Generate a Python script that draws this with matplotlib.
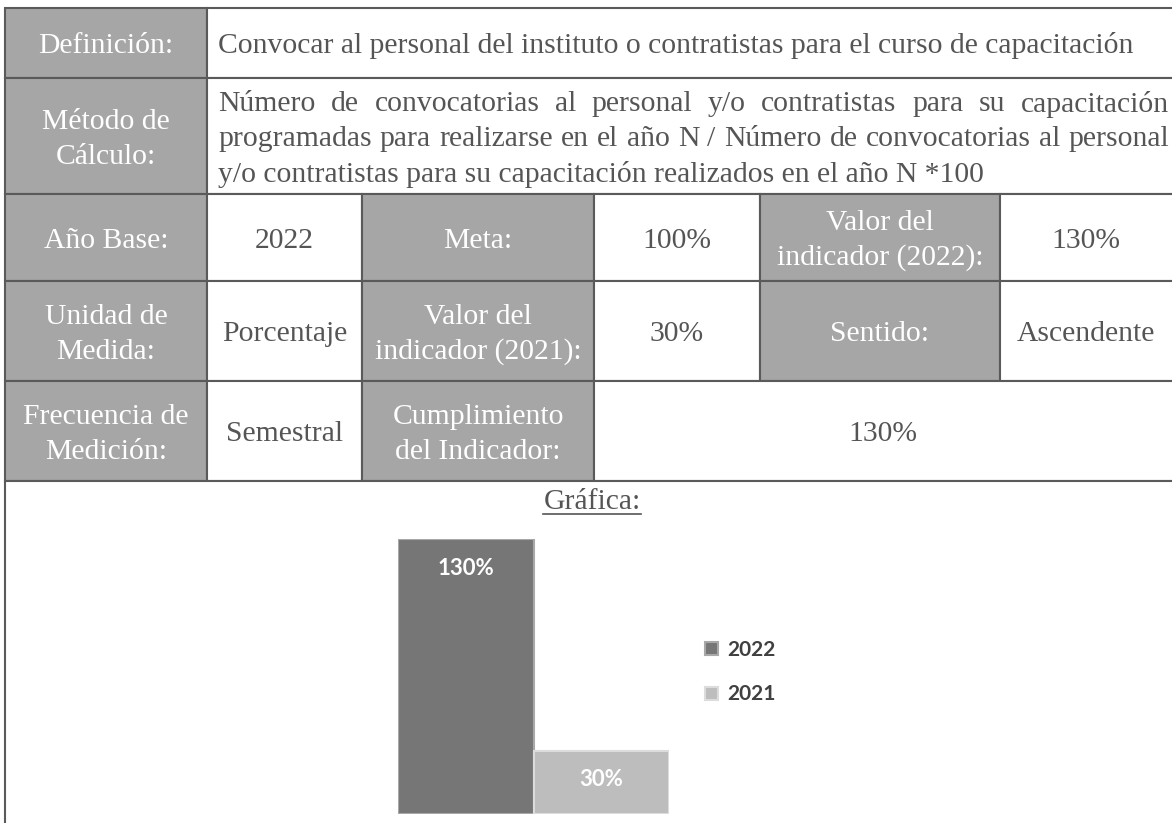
import matplotlib
matplotlib.use('Agg')
import matplotlib.pyplot as plt
from matplotlib.patches import Rectangle

W, H = 1172, 823

# chart data
years = ['2022', '2021']
values = [130, 30]
bar_labels = ['130%', '30%']
bar_colors = ['#767676', '#bdbdbd']
bar_edges = ['#a8a8a8', '#dcdcdc']

# table text
definicion = 'Convocar al personal del instituto o contratistas para el curso de capacitación'
metodo = ['Número de convocatorias al personal y/o contratistas para su capacitación',
          'programadas para realizarse en el año N / Número de convocatorias al personal',
          'y/o contratistas para su capacitación realizados en el año N *100']

col_edges = [5, 207, 362, 594, 760, 1000, 1185]
row_edges = [8, 78, 194, 281, 381, 481]

# (row, first col, last col, text, is label)
cells = [
    (0, 0, 1, 'Definición:', True),
    (0, 1, 6, '', False),
    (1, 0, 1, 'Método de\nCálculo:', True),
    (1, 1, 6, '', False),
    (2, 0, 1, 'Año Base:', True),
    (2, 1, 2, '2022', False),
    (2, 2, 3, 'Meta:', True),
    (2, 3, 4, '100%', False),
    (2, 4, 5, 'Valor del\nindicador (2022):', True),
    (2, 5, 6, '130%', False),
    (3, 0, 1, 'Unidad de\nMedida:', True),
    (3, 1, 2, 'Porcentaje', False),
    (3, 2, 3, 'Valor del\nindicador (2021):', True),
    (3, 3, 4, '30%', False),
    (3, 4, 5, 'Sentido:', True),
    (3, 5, 6, 'Ascendente', False),
    (4, 0, 1, 'Frecuencia de\nMedición:', True),
    (4, 1, 2, 'Semestral', False),
    (4, 2, 3, 'Cumplimiento\ndel Indicador:', True),
    (4, 3, 6, '130%', False),
]

LINE = '#5a5a5a'
LABEL_BG = '#a6a6a6'
TXT = '#555555'
SERIF = 'Liberation Serif'

fig = plt.figure(figsize=(W / 100, H / 100), dpi=100)
ax = fig.add_axes([0, 0, 1, 1])
ax.set_xlim(0, W)
ax.set_ylim(H, 0)
ax.axis('off')
r = fig.canvas.get_renderer()


def width_of(s, fs):
    t = ax.text(0, 0, s, fontsize=fs, family=SERIF)
    w = t.get_window_extent(r).width
    t.remove()
    return w


# font size fitted to the first row text width
fs = 10 * 915 / width_of(definicion, 10)

for row, c0, c1, txt, is_label in cells:
    x0, x1 = col_edges[c0], col_edges[c1]
    y0, y1 = row_edges[row], row_edges[row + 1]
    ax.add_patch(Rectangle((x0, y0), x1 - x0, y1 - y0,
                           facecolor=LABEL_BG if is_label else 'white',
                           edgecolor=LINE, linewidth=1.5))
    if not txt:
        continue
    xc = (x0 + min(x1, W)) / 2
    yc = (y0 + y1) / 2 + 3
    lines = txt.split('\n')
    for i, ln in enumerate(lines):
        yy = yc + (i - (len(lines) - 1) / 2) * 35
        ax.text(xc, yy, ln, fontsize=fs, family=SERIF, ha='center', va='center',
                color='white' if is_label else TXT)

# graph row
ax.add_patch(Rectangle((5, 481), 1300, 500, facecolor='white',
                       edgecolor=LINE, linewidth=1.5))

# row 1 text
ax.text(218, 45, definicion, fontsize=fs, family=SERIF, ha='left', va='center', color=TXT)

# justified method text
x_left, x_right = 218, 1169
for i, ln in enumerate(metodo):
    yy = 104 + i * 35
    if i == len(metodo) - 1:
        ax.text(x_left, yy, ln, fontsize=fs, family=SERIF, ha='left', va='center', color=TXT)
        continue
    words = ln.split(' ')
    ws = [width_of(w, fs) for w in words]
    gap = (x_right - x_left - sum(ws)) / (len(words) - 1)
    x = x_left
    for w, wd in zip(words, ws):
        ax.text(x, yy, w, fontsize=fs, family=SERIF, ha='left', va='center', color=TXT)
        x += wd + gap

# underlined title
title = ax.text(592, 502, 'Gráfica:', fontsize=fs, family=SERIF, ha='center', va='center', color=TXT)
bb = title.get_window_extent(r)
ax.plot([bb.x0, bb.x1], [514, 514], color=TXT, linewidth=1.2)

# bar chart
axb = fig.add_axes([398 / W, (H - 814) / H, (669 - 398) / W, (814 - 539) / H])
for i in range(len(values)):
    axb.bar(i, values[i], width=1.0, color=bar_colors[i], edgecolor=bar_edges[i],
            linewidth=1.5, label=years[i])
    axb.annotate(bar_labels[i], (i, values[i]), xytext=(0, -21), textcoords='offset points',
                 ha='center', va='center', color='white', fontsize=16,
                 family='Lato', fontweight='bold')
axb.set_xlim(-0.5, 1.5)
axb.set_ylim(0, 130)
axb.axis('off')

axb.legend(loc='center left', bbox_to_anchor=(705 / W, (H - 672) / H),
           bbox_transform=fig.transFigure, frameon=False,
           prop={'family': 'Lato', 'weight': 'bold', 'size': 15},
           labelcolor='#404040', handlelength=0.6, handleheight=0.6,
           handletextpad=0.45, labelspacing=1.2, borderpad=0, borderaxespad=0)

fig.savefig('out.png', dpi=100)
